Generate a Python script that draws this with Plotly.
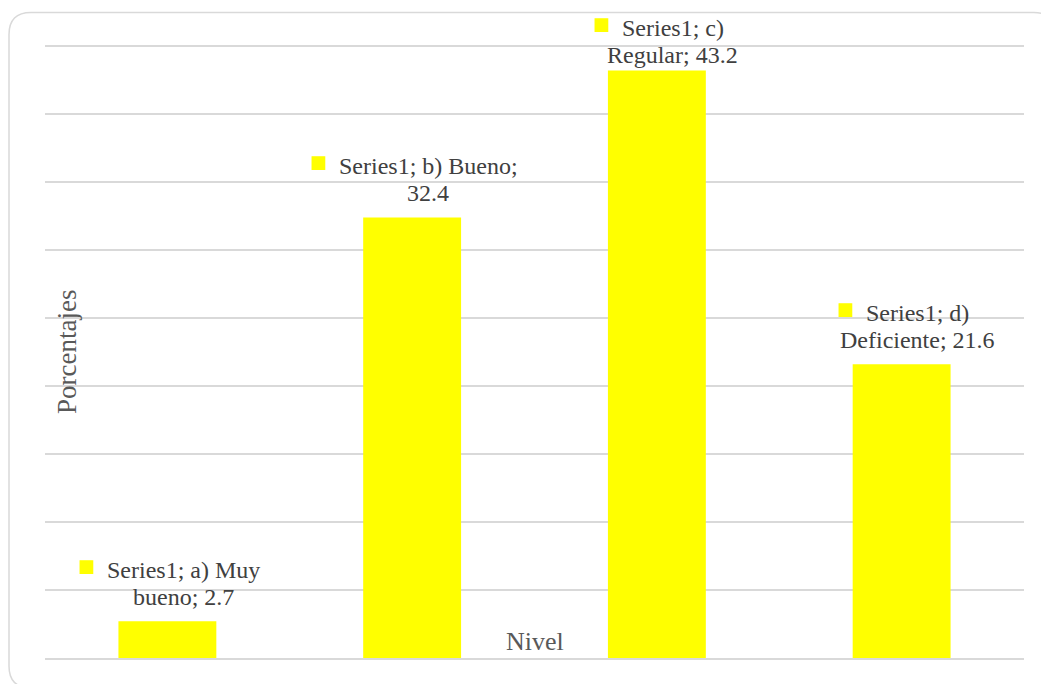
import plotly.graph_objects as go

categories = ["a) Muy bueno", "b) Bueno", "c) Regular", "d) Deficiente"]
values = [2.7, 32.4, 43.2, 21.6]
series_name = "Series1"
# how each label text is broken into two lines (line1, line2)
label_lines = [
    ("Series1; a) Muy", "bueno; 2.7"),
    ("Series1; b) Bueno;", "32.4"),
    ("Series1; c)", "Regular; 43.2"),
    ("Series1; d)", "Deficiente; 21.6"),
]
x_title = "Nivel"
y_title = "Porcentajes"

W, H = 1049, 684
OFF = 8  # page body margin
L, R, B = 45 - OFF, 1024 - OFF, 658 - OFF
YTOP = 45.15
PXU = 612 / 45.0
T = B - YTOP * PXU

FONT = "Liberation Serif"
BAR = "#FFFF00"
GRID = "#D9D9D9"
TXT = "#404040"
LINE_GAP = 27      # px between label lines
LABEL_SHIFT = 9    # px above bar top for the second label line
MIN_LINE2_TOP = 70 - OFF  # labels are kept below this (figure px)

fig = go.Figure()
fig.add_trace(go.Bar(x=categories, y=values, marker=dict(color=BAR, line=dict(width=0)),
                     name=series_name, showlegend=False, hoverinfo="x+y"))

sq_style = "font-family:DejaVu Sans;font-size:18px;baseline-shift:6px"
sq = f"<span style='color:{BAR};{sq_style}'>■</span>"
sq_hidden = f"<span style='color:rgba(0,0,0,0);{sq_style}'>■</span>"
annotations = []
for cat, v, (l1, l2) in zip(categories, values, label_lines):
    bar_top_px = B - v * PXU
    shift2 = min(LABEL_SHIFT, bar_top_px - MIN_LINE2_TOP)
    common = dict(x=cat, y=v, xref="x", yref="y", showarrow=False,
                  xanchor="center", yanchor="bottom", xshift=16,
                  font=dict(family=FONT, size=24, color=TXT), align="center")
    annotations.append(dict(text=l2, yshift=shift2, **common))
    annotations.append(dict(text=f"{sq}  {l1}  {sq_hidden}", yshift=shift2 + LINE_GAP, **common))

def px(xpix):
    return (xpix - L) / (R - L)

def py(ypix):
    return (B - ypix) / (B - T)

annotations.append(dict(x=px(535 - OFF), y=py(641 - OFF), xref="paper", yref="paper", text=x_title,
                        showarrow=False, xanchor="center", yanchor="middle",
                        font=dict(family=FONT, size=26, color="#595959")))
annotations.append(dict(x=px(67 - OFF), y=py(352 - OFF), xref="paper", yref="paper", text=y_title,
                        showarrow=False, xanchor="center", yanchor="middle", textangle=-90,
                        font=dict(family=FONT, size=27, color="#595959")))

# rounded chart border
x0, x1, y0, y1, r = 1, 1048, 4.5, 680, 22
path = (f"M {px(x0+r)},{py(y0)} L {px(x1-r)},{py(y0)} Q {px(x1)},{py(y0)} {px(x1)},{py(y0+r)} "
        f"L {px(x1)},{py(y1-r)} Q {px(x1)},{py(y1)} {px(x1-r)},{py(y1)} "
        f"L {px(x0+r)},{py(y1)} Q {px(x0)},{py(y1)} {px(x0)},{py(y1-r)} "
        f"L {px(x0)},{py(y0+r)} Q {px(x0)},{py(y0)} {px(x0+r)},{py(y0)} Z")
fig.add_shape(type="path", path=path, xref="paper", yref="paper",
              line=dict(color=GRID, width=1.5), layer="below")

fig.update_layout(
    width=W, height=H, autosize=False,
    margin=dict(l=L, r=W - R, t=T, b=H - B, pad=0),
    paper_bgcolor="white", plot_bgcolor="white",
    bargap=0.6,
    annotations=annotations,
    font=dict(family=FONT, color=TXT),
)
fig.update_xaxes(showticklabels=False, showgrid=False, zeroline=False, showline=True,
                 linecolor=GRID, linewidth=2, ticks="")
fig.update_yaxes(range=[0, YTOP], dtick=5, showticklabels=False, showgrid=True,
                 gridcolor=GRID, gridwidth=2, zeroline=False, showline=False, ticks="")

fig.write_html("out.html")
